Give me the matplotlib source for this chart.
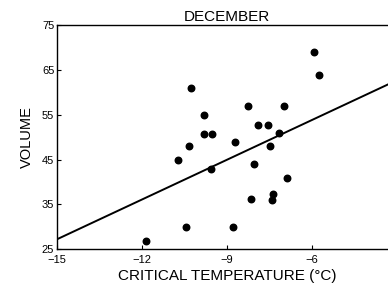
import numpy as np
import matplotlib
matplotlib.use("Agg")
import matplotlib.pyplot as plt

plt.rcParams['font.family'] = ['Liberation Sans', 'DejaVu Sans']

#### data ####
crit_temp = [-11.86, -10.44, -8.78, -10.72, -10.34, -10.27, -9.81, -9.81,
             -9.52, -9.56, -8.71, -8.25, -8.14, -8.04, -7.90, -7.54,
             -7.47, -7.40, -7.37, -7.16, -6.98, -6.87, -5.92, -5.74]
volume = [26.8, 29.9, 29.9, 44.9, 48.0, 60.9, 54.9, 50.7,
          50.7, 42.9, 48.9, 56.9, 36.2, 44.0, 52.7, 52.7,
          48.0, 36.0, 37.4, 50.9, 56.9, 40.8, 69.0, 63.8]

# regression line end points
line_x = [-15, -3]
line_y = [27.2, 62.7]

x_ticks = [-15, -12, -9, -6, -3]
y_ticks = [25, 35, 45, 55, 65, 75]

fig = plt.figure(figsize=(3.88, 2.86), dpi=100)
ax = fig.add_axes([0.147, 0.129, 0.876, 0.783])

ax.scatter(crit_temp, volume, s=22, color='black', zorder=3)
ax.plot(line_x, line_y, color='black', linewidth=1.4)

ax.set_xlim(-15, -3)
ax.set_ylim(25, 75)
ax.set_xticks(x_ticks)
ax.set_yticks(y_ticks)
ax.tick_params(labelsize=8, length=3, width=0.8, direction='in')
ax.tick_params(axis='x', pad=4)
ax.tick_params(axis='y', pad=2)

ax.set_title("DECEMBER", fontsize=11, pad=3)
ax.set_xlabel("CRITICAL TEMPERATURE (°C)", fontsize=11, labelpad=3)
ax.set_ylabel("VOLUME", fontsize=10.5, labelpad=6)

for sp in ax.spines.values():
    sp.set_linewidth(1.0)

fig.savefig("out.png", dpi=100)
